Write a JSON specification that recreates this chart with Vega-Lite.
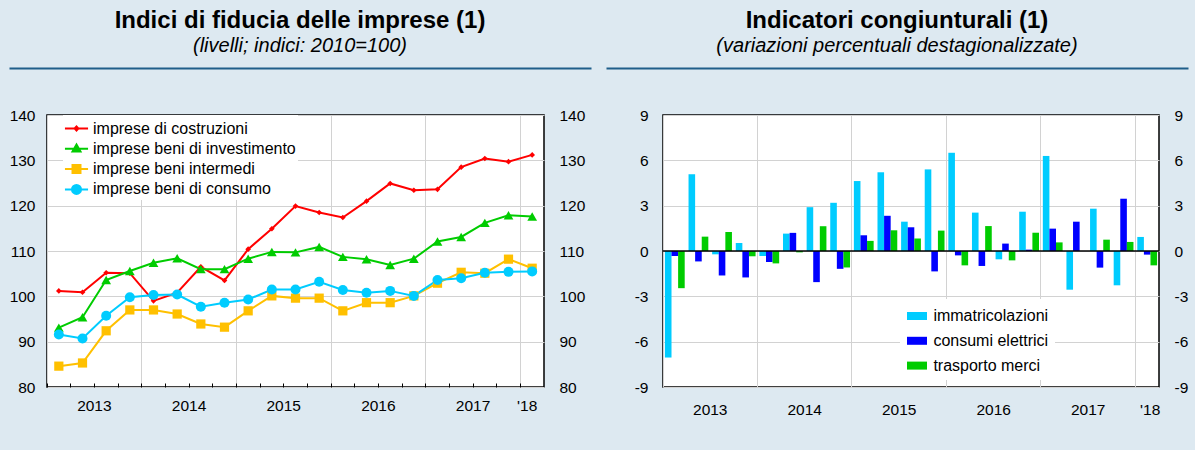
{
  "$schema": "https://vega.github.io/schema/vega-lite/v6.json",
  "background": "#dde9f1",
  "padding": {"left": 8, "top": 8, "right": 7, "bottom": 33},
  "config": {
    "font": "Liberation Sans",
    "view": {"stroke": "black", "strokeWidth": 1.5, "fill": "white"},
    "axis": {"labelFont": "Liberation Sans", "labelFontSize": 15.5, "labelColor": "black", "gridColor": "#d2d2d2", "gridWidth": 1, "domain": false, "ticks": false},
    "legend": {"labelFont": "Liberation Sans", "labelFontSize": 16, "labelColor": "black", "labelLimit": 400},
    "title": {"anchor": "middle", "frame": "group", "font": "Liberation Sans", "fontSize": 24, "fontWeight": "bold", "color": "black", "subtitleFont": "Liberation Sans", "subtitleFontSize": 20, "subtitleFontStyle": "italic", "subtitleColor": "black", "subtitlePadding": 3, "offset": 12}
  },
  "spacing": -14,
  "resolve": {"scale": {"color": "independent"}},
  "hconcat": [
    {
      "width": 497, "height": 272,
      "title": {"text": "Indici di fiducia delle imprese (1)", "subtitle": "(livelli; indici: 2010=100)", "dx": 4.5},
      "data": {"values": [
        {"q": "2013-1", "imprese di costruzioni": 101.2, "imprese beni di investimento": 93.1, "imprese beni intermedi": 84.6, "imprese beni di consumo": 91.6},
        {"q": "2013-2", "imprese di costruzioni": 100.9, "imprese beni di investimento": 95.4, "imprese beni intermedi": 85.3, "imprese beni di consumo": 90.7},
        {"q": "2013-3", "imprese di costruzioni": 105.2, "imprese beni di investimento": 103.6, "imprese beni intermedi": 92.4, "imprese beni di consumo": 95.7},
        {"q": "2013-4", "imprese di costruzioni": 105.1, "imprese beni di investimento": 105.6, "imprese beni intermedi": 97.0, "imprese beni di consumo": 99.8},
        {"q": "2014-1", "imprese di costruzioni": 99.0, "imprese beni di investimento": 107.4, "imprese beni intermedi": 97.0, "imprese beni di consumo": 100.3},
        {"q": "2014-2", "imprese di costruzioni": 100.8, "imprese beni di investimento": 108.4, "imprese beni intermedi": 96.1, "imprese beni di consumo": 100.4},
        {"q": "2014-3", "imprese di costruzioni": 106.5, "imprese beni di investimento": 106.0, "imprese beni intermedi": 93.9, "imprese beni di consumo": 97.7},
        {"q": "2014-4", "imprese di costruzioni": 103.5, "imprese beni di investimento": 106.0, "imprese beni intermedi": 93.2, "imprese beni di consumo": 98.6},
        {"q": "2015-1", "imprese di costruzioni": 110.4, "imprese beni di investimento": 108.3, "imprese beni intermedi": 96.8, "imprese beni di consumo": 99.3},
        {"q": "2015-2", "imprese di costruzioni": 114.9, "imprese beni di investimento": 109.8, "imprese beni intermedi": 100.1, "imprese beni di consumo": 101.5},
        {"q": "2015-3", "imprese di costruzioni": 119.9, "imprese beni di investimento": 109.7, "imprese beni intermedi": 99.6, "imprese beni di consumo": 101.5},
        {"q": "2015-4", "imprese di costruzioni": 118.5, "imprese beni di investimento": 110.9, "imprese beni intermedi": 99.6, "imprese beni di consumo": 103.2},
        {"q": "2016-1", "imprese di costruzioni": 117.4, "imprese beni di investimento": 108.7, "imprese beni intermedi": 96.8, "imprese beni di consumo": 101.4},
        {"q": "2016-2", "imprese di costruzioni": 121.0, "imprese beni di investimento": 108.2, "imprese beni intermedi": 98.6, "imprese beni di consumo": 100.8},
        {"q": "2016-3", "imprese di costruzioni": 124.9, "imprese beni di investimento": 106.9, "imprese beni intermedi": 98.6, "imprese beni di consumo": 101.2},
        {"q": "2016-4", "imprese di costruzioni": 123.4, "imprese beni di investimento": 108.3, "imprese beni intermedi": 100.1, "imprese beni di consumo": 100.1},
        {"q": "2017-1", "imprese di costruzioni": 123.6, "imprese beni di investimento": 112.1, "imprese beni intermedi": 102.9, "imprese beni di consumo": 103.6},
        {"q": "2017-2", "imprese di costruzioni": 128.5, "imprese beni di investimento": 113.1, "imprese beni intermedi": 105.3, "imprese beni di consumo": 104.0},
        {"q": "2017-3", "imprese di costruzioni": 130.4, "imprese beni di investimento": 116.2, "imprese beni intermedi": 105.1, "imprese beni di consumo": 105.2},
        {"q": "2017-4", "imprese di costruzioni": 129.7, "imprese beni di investimento": 117.9, "imprese beni intermedi": 108.2, "imprese beni di consumo": 105.4},
        {"q": "2018-1", "imprese di costruzioni": 131.2, "imprese beni di investimento": 117.6, "imprese beni intermedi": 106.2, "imprese beni di consumo": 105.5}
      ]},
      "transform": [{"fold": ["imprese di costruzioni", "imprese beni di investimento", "imprese beni intermedi", "imprese beni di consumo"], "as": ["serie", "valore"]}],
      "layer": [
        {
          "mark": {"type": "point", "opacity": 0},
          "encoding": {
            "x": {"field": "q", "type": "ordinal", "scale": {"type": "band", "range": [-38, 544]},
              "axis": {"title": null, "orient": "top", "offset": 47, "domain": true, "domainColor": "#1f5e8a", "domainWidth": 2, "labels": false, "ticks": false, "grid": false}},
            "y": {"field": "valore", "type": "quantitative", "scale": {"domain": [80, 140], "nice": false, "zero": false}, "axis": null}
          }
        },
        {
          "mark": {"type": "line", "strokeWidth": 2},
          "encoding": {
            "x": {"field": "q", "type": "ordinal", "scale": {"type": "band", "paddingInner": 0, "paddingOuter": 0},
              "axis": {"title": null, "bandPosition": 0, "ticks": true, "tickSize": -4, "tickColor": "black", "tickWidth": 1, "grid": true,
                "gridOpacity": {"condition": {"test": "indexof(datum.value, '-1') > 0", "value": 1}, "value": 0},
                "labelAngle": 0, "labelOverlap": false, "labelBound": false, "labelFlush": false, "labelPadding": 15, "labelAlign": "center",
                "labelExpr": "datum.value === '2018-1' ? \"'18\" : (indexof(datum.value, '-3') > 0 ? substring(datum.value, 0, 4) : '')",
                "labelOffset": {"condition": {"test": "datum.value === '2018-1'", "value": -5}, "value": -11.8}}},
            "y": {"field": "valore", "type": "quantitative",
              "axis": {"title": null, "orient": "left", "values": [80, 90, 100, 110, 120, 130, 140], "grid": true, "labelPadding": 12}},
            "color": {"field": "serie", "type": "nominal", "scale": {"domain": ["imprese di costruzioni", "imprese beni di investimento", "imprese beni intermedi", "imprese beni di consumo"], "range": ["#ff0000", "#00cc00", "#ffc000", "#00ccff"]}, "legend": null}
          }
        },
        {
          "transform": [{"filter": "datum.serie === 'imprese di costruzioni'"}],
          "mark": {"type": "point", "filled": true, "opacity": 1, "shape": "diamond", "size": 32, "color": "#ff0000"},
          "encoding": {
            "x": {"field": "q", "type": "ordinal", "scale": {"type": "band", "paddingInner": 0, "paddingOuter": 0}, "axis": null},
            "y": {"field": "valore", "type": "quantitative", "axis": {"title": null, "orient": "right", "values": [80, 90, 100, 110, 120, 130, 140], "grid": false, "labelPadding": 15}}
          }
        },
        {
          "transform": [{"filter": "datum.serie === 'imprese beni di investimento'"}],
          "mark": {"type": "point", "filled": true, "opacity": 1, "shape": "triangle-up", "size": 95, "color": "#00cc00"},
          "encoding": {
            "x": {"field": "q", "type": "ordinal", "scale": {"type": "band", "paddingInner": 0, "paddingOuter": 0}, "axis": null},
            "y": {"field": "valore", "type": "quantitative", "axis": null}
          }
        },
        {
          "transform": [{"filter": "datum.serie === 'imprese beni intermedi'"}],
          "mark": {"type": "point", "filled": true, "opacity": 1, "shape": "square", "size": 85, "color": "#ffc000"},
          "encoding": {
            "x": {"field": "q", "type": "ordinal", "scale": {"type": "band", "paddingInner": 0, "paddingOuter": 0}, "axis": null},
            "y": {"field": "valore", "type": "quantitative", "axis": null}
          }
        },
        {
          "transform": [{"filter": "datum.serie === 'imprese beni di consumo'"}],
          "mark": {"type": "point", "filled": true, "opacity": 1, "shape": "circle", "size": 100, "color": "#00ccff"},
          "encoding": {
            "x": {"field": "q", "type": "ordinal", "scale": {"type": "band", "paddingInner": 0, "paddingOuter": 0}, "axis": null},
            "y": {"field": "valore", "type": "quantitative", "axis": null}
          }
        },
        {
          "transform": [{"filter": "false"}],
          "mark": {"type": "point", "filled": true, "opacity": 1, "size": 441, "strokeWidth": 2},
          "encoding": {
            "x": {"field": "q", "type": "ordinal", "scale": {"type": "band", "paddingInner": 0, "paddingOuter": 0}, "axis": null},
            "y": {"field": "valore", "type": "quantitative", "axis": null},
            "fill": {"field": "serie", "type": "nominal", "scale": {"domain": ["imprese di costruzioni", "imprese beni di investimento", "imprese beni intermedi", "imprese beni di consumo"], "range": ["#ff0000", "#00cc00", "#ffc000", "#00ccff"]},
              "legend": {"title": null, "orient": "none", "legendX": 16, "legendY": 0, "fillColor": "white", "padding": 2, "rowPadding": 0.3, "labelOffset": 5, "symbolSize": 441, "symbolStrokeWidth": 2, "labelFontSize": 16, "labelLimit": 400}},
            "stroke": {"field": "serie", "type": "nominal", "scale": {"domain": ["imprese di costruzioni", "imprese beni di investimento", "imprese beni intermedi", "imprese beni di consumo"], "range": ["#ff0000", "#00cc00", "#ffc000", "#00ccff"]},
              "legend": {"title": null, "orient": "none", "legendX": 16, "legendY": 0, "fillColor": "white", "padding": 2, "rowPadding": 0.3, "labelOffset": 5, "symbolSize": 441, "symbolStrokeWidth": 2, "labelFontSize": 16, "labelLimit": 400}},
            "shape": {"field": "serie", "type": "nominal", "scale": {"domain": ["imprese di costruzioni", "imprese beni di investimento", "imprese beni intermedi", "imprese beni di consumo"], "range": [
                "M-1.1,0H1.1M-0.18,0L0,-0.2L0.18,0L0,0.2Z",
                "M-1.1,0H1.1M0,-0.4L0.38,0.26L-0.38,0.26Z",
                "M-1.1,0H1.1M-0.38,-0.38H0.38V0.38H-0.38Z",
                "M-1.1,0H1.1M-0.43,0A0.43,0.43,0,1,1,0.43,0A0.43,0.43,0,1,1,-0.43,0Z"]},
              "legend": {"title": null, "orient": "none", "legendX": 16, "legendY": 0, "fillColor": "white", "padding": 2, "rowPadding": 0.3, "labelOffset": 5, "symbolSize": 441, "symbolStrokeWidth": 2, "labelFontSize": 16, "labelLimit": 400}}
          }
        }
      ],
      "resolve": {"scale": {"x": "independent"}, "axis": {"x": "independent", "y": "independent"}}
    },
    {
      "width": 496, "height": 272,
      "title": {"text": "Indicatori congiunturali (1)", "subtitle": "(variazioni percentuali destagionalizzate)", "dx": -14},
      "data": {"values": [
        {"q": "2013-1", "immatricolazioni": -7.05, "consumi elettrici": -0.33, "trasporto merci": -2.46},
        {"q": "2013-2", "immatricolazioni": 5.08, "consumi elettrici": -0.69, "trasporto merci": 0.95},
        {"q": "2013-3", "immatricolazioni": -0.22, "consumi elettrici": -1.62, "trasporto merci": 1.26},
        {"q": "2013-4", "immatricolazioni": 0.53, "consumi elettrici": -1.75, "trasporto merci": -0.35},
        {"q": "2014-1", "immatricolazioni": -0.33, "consumi elettrici": -0.73, "trasporto merci": -0.82},
        {"q": "2014-2", "immatricolazioni": 1.15, "consumi elettrici": 1.2, "trasporto merci": -0.09},
        {"q": "2014-3", "immatricolazioni": 2.9, "consumi elettrici": -2.06, "trasporto merci": 1.64},
        {"q": "2014-4", "immatricolazioni": 3.19, "consumi elettrici": -1.18, "trasporto merci": -1.09},
        {"q": "2015-1", "immatricolazioni": 4.63, "consumi elettrici": 1.04, "trasporto merci": 0.67},
        {"q": "2015-2", "immatricolazioni": 5.21, "consumi elettrici": 2.33, "trasporto merci": 1.37},
        {"q": "2015-3", "immatricolazioni": 1.94, "consumi elettrici": 1.57, "trasporto merci": 0.82},
        {"q": "2015-4", "immatricolazioni": 5.4, "consumi elettrici": -1.35, "trasporto merci": 1.35},
        {"q": "2016-1", "immatricolazioni": 6.5, "consumi elettrici": -0.29, "trasporto merci": -0.95},
        {"q": "2016-2", "immatricolazioni": 2.54, "consumi elettrici": -0.99, "trasporto merci": 1.65},
        {"q": "2016-3", "immatricolazioni": -0.55, "consumi elettrici": 0.49, "trasporto merci": -0.62},
        {"q": "2016-4", "immatricolazioni": 2.6, "consumi elettrici": 0.09, "trasporto merci": 1.21},
        {"q": "2017-1", "immatricolazioni": 6.29, "consumi elettrici": 1.48, "trasporto merci": 0.57},
        {"q": "2017-2", "immatricolazioni": -2.56, "consumi elettrici": 1.94, "trasporto merci": 0.0},
        {"q": "2017-3", "immatricolazioni": 2.8, "consumi elettrici": -1.1, "trasporto merci": 0.75},
        {"q": "2017-4", "immatricolazioni": -2.27, "consumi elettrici": 3.46, "trasporto merci": 0.6},
        {"q": "2018-1", "immatricolazioni": 0.93, "consumi elettrici": -0.24, "trasporto merci": -0.95}
      ]},
      "transform": [{"fold": ["immatricolazioni", "consumi elettrici", "trasporto merci"], "as": ["serie", "valore"]}],
      "layer": [
        {
          "mark": {"type": "point", "opacity": 0},
          "encoding": {
            "x": {"field": "q", "type": "ordinal", "scale": {"type": "band", "range": [-57, 525]},
              "axis": {"title": null, "orient": "top", "offset": 47, "domain": true, "domainColor": "#1f5e8a", "domainWidth": 2, "labels": false, "ticks": false, "grid": false}},
            "y": {"field": "valore", "type": "quantitative", "scale": {"domain": [-9, 9], "nice": false}, "axis": null}
          }
        },
        {
          "mark": {"type": "bar"},
          "encoding": {
            "x": {"field": "q", "type": "ordinal", "scale": {"type": "band", "paddingInner": 0, "paddingOuter": 0},
              "axis": {"title": null, "bandPosition": 0, "ticks": false, "grid": true,
                "gridOpacity": {"condition": {"test": "indexof(datum.value, '-1') > 0", "value": 1}, "value": 0},
                "labelAngle": 0, "labelOverlap": false, "labelBound": false, "labelFlush": false, "labelPadding": 15, "labelAlign": "center",
                "labelExpr": "datum.value === '2018-1' ? \"'18\" : (indexof(datum.value, '-3') > 0 ? substring(datum.value, 0, 4) : '')",
                "labelOffset": {"condition": {"test": "datum.value === '2018-1'", "value": 3}, "value": -11.8}}},
            "xOffset": {"field": "serie", "type": "nominal", "scale": {"domain": ["immatricolazioni", "consumi elettrici", "trasporto merci"], "paddingInner": 0, "paddingOuter": 0.29}},
            "y": {"field": "valore", "type": "quantitative",
              "axis": {"title": null, "orient": "left", "values": [-9, -6, -3, 0, 3, 6, 9], "grid": true, "labelPadding": 15, "labelExpr": "(datum.value < 0 ? '-' : '') + abs(datum.value)"}},
            "color": {"field": "serie", "type": "nominal", "scale": {"domain": ["immatricolazioni", "consumi elettrici", "trasporto merci"], "range": ["#00ccff", "#0000ff", "#00cc00"]},
              "legend": {"title": null, "orient": "none", "legendX": 237, "legendY": 184, "fillColor": "white", "padding": 6, "rowPadding": 5.8, "labelOffset": 5.4, "symbolType": "M-1,-0.4H1V0.4H-1Z", "symbolSize": 400, "labelFontSize": 16, "labelLimit": 400}}
          }
        },
        {
          "data": {"values": [{}]},
          "mark": {"type": "rule", "color": "black", "strokeWidth": 1.5},
          "encoding": {
            "y": {"datum": 0, "type": "quantitative", "axis": {"title": null, "orient": "right", "values": [-9, -6, -3, 0, 3, 6, 9], "grid": false, "labelPadding": 15, "labelExpr": "(datum.value < 0 ? '-' : '') + abs(datum.value)"}}
          }
        }
      ],
      "resolve": {"scale": {"x": "independent"}, "axis": {"x": "independent", "y": "independent"}}
    }
  ]
}
